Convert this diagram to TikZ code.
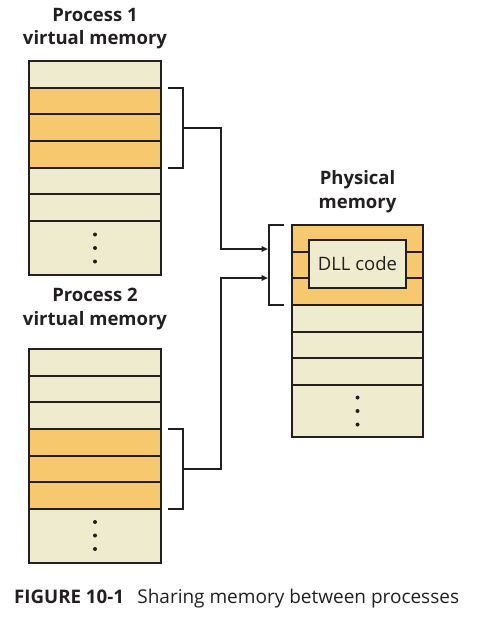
\documentclass[tikz,border=0pt]{standalone}
\usepackage{fontspec}
\setmainfont{Open Sans}
\usetikzlibrary{arrows.meta}
\definecolor{orng}{RGB}{248,200,110}
\definecolor{pale}{RGB}{239,235,207}
\definecolor{ink}{RGB}{35,31,32}
\begin{document}
\begin{tikzpicture}[x=1pt,y=-1pt,
  cell/.style={draw=ink, line width=2pt, minimum width=132pt, minimum height=26.67pt, inner sep=0pt, outer sep=0pt, anchor=north west},
  tallcell/.style={cell, minimum height=54pt},
  hdr/.style={font=\fontsize{18.5}{23.5}\selectfont\bfseries, align=center, text=ink, inner sep=0pt},
  brk/.style={draw=ink, line width=1.8pt},
  link/.style={draw=ink, line width=1.8pt, -{Triangle[length=6.5pt,width=5.5pt]}},
  dotmark/.style={circle, fill=ink, inner sep=0pt, minimum size=4pt}]
\useasboundingbox (0,0) rectangle (490,621);
% titles
\node[hdr, anchor=north] (t1) at (95,8) {Process 1\\virtual memory};
\node[hdr, anchor=north] (t2) at (95,288) {Process 2\\virtual memory};
\node[hdr, anchor=north] (t3) at (357.5,170.5) {Physical\\memory};
% process 1
\foreach \i/\c in {0/pale,1/orng,2/orng,3/orng,4/pale,5/pale}
  \node[cell, fill=\c] (pa\i) at (29,61+26.67*\i) {};
\node[tallcell, fill=pale] (pa6) at (29,221) {};
\foreach \j in {0,1,2} \node[dotmark] (pad\j) at (95,234.5+13.5*\j) {};
% process 2
\foreach \i/\c in {0/pale,1/pale,2/pale,3/orng,4/orng,5/orng}
  \node[cell, fill=\c] (pb\i) at (29,349+26.67*\i) {};
\node[tallcell, fill=pale] (pb6) at (29,509) {};
\foreach \j in {0,1,2} \node[dotmark] (pbd\j) at (95,522+13.5*\j) {};
% physical
\foreach \i/\c in {0/orng,1/orng,2/orng,3/pale,4/pale,5/pale}
  \node[cell, fill=\c, minimum width=131pt] (ph\i) at (292,225+26.67*\i) {};
\node[tallcell, fill=pale, minimum width=131pt, minimum height=52pt] (ph6) at (292,385) {};
\foreach \j in {0,1,2} \node[dotmark] (phd\j) at (357.5,397.5+13.5*\j) {};
\node[draw=ink, line width=2pt, fill=pale, minimum width=97pt, minimum height=48pt, inner sep=0pt,
  font=\fontsize{18.5}{22}\selectfont, text=ink] (dll) at (357.5,264) {DLL code};
% brackets
\draw[brk] (168,88) -- (183,88) -- (183,168) -- (168,168);
\draw[brk] (168,429) -- (183,429) -- (183,509) -- (168,509);
\draw[brk] (284,225) -- (269,225) -- (269,305) -- (284,305);
\coordinate (m1) at (183,128);
\coordinate (m2) at (183,469);
\coordinate (e1) at (268,249);
\coordinate (e2) at (268,278);
\draw[link] (m1) -- ++(38,0) |- (e1);
\draw[link] (m2) -- ++(38,0) |- (e2);
% caption
\node[anchor=base west, inner sep=0pt, font=\fontsize{19}{22}\selectfont, text=ink] (cap) at (14,603)
  {{\fontsize{18.7}{22}\selectfont\bfseries FIGURE 10-1}\hspace{0.7em}Sharing memory between processes};
\end{tikzpicture}
\end{document}
